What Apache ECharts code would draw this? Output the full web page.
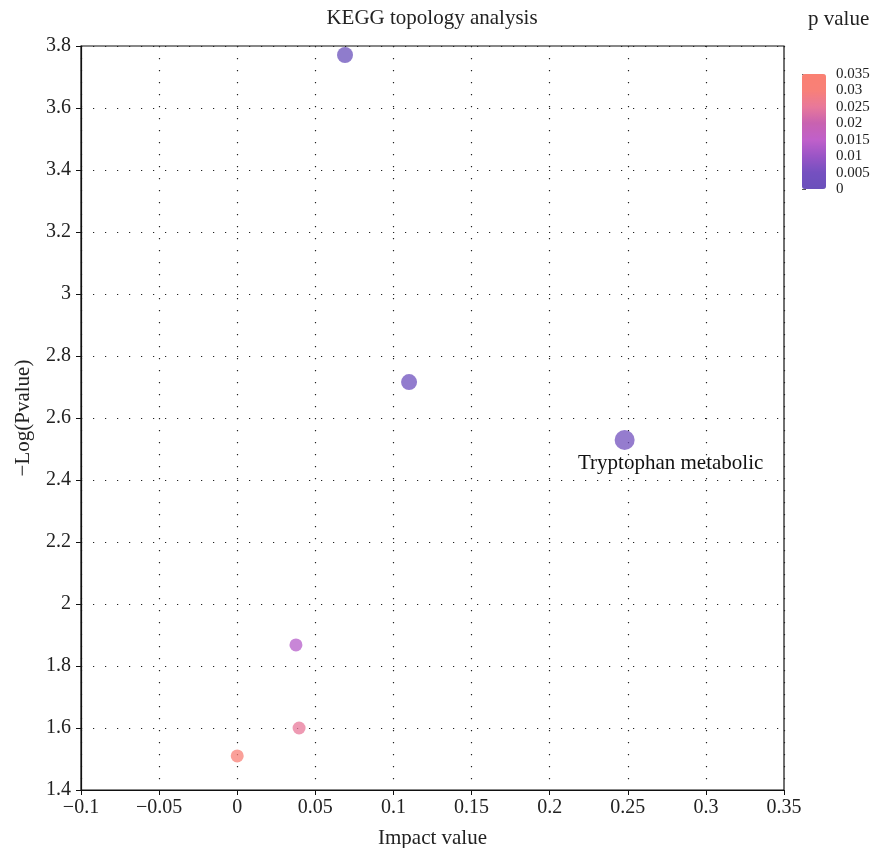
<!DOCTYPE html>
<html>
<head>
<meta charset="utf-8">
<script src="https://cdn.jsdelivr.net/npm/echarts@6/dist/echarts.min.js"></script>
<style>
html,body{margin:0;padding:0;background:#fff;}
#chart{width:873px;height:848px;}
</style>
</head>
<body>
<div id="chart"></div>
<script>
// Data
var impactValues = [0.069, 0.110, 0.248, 0.0376, 0.0396, 0.0];
var negLogP = [3.771, 2.716, 2.529, 1.868, 1.600, 1.510];
var pValues = [0.00017, 0.0019, 0.0030, 0.0136, 0.0251, 0.0309];
var dotSizes = [16, 16, 20, 13, 13, 13];
var pathwayLabels = ['', '', 'Tryptophan metabolic', '', '', ''];
var xTicks = { min: -0.1, max: 0.35, interval: 0.05 };
var yTicks = { min: 1.4, max: 3.8, interval: 0.2 };
var pTicks = { min: 0, max: 0.035, interval: 0.005 };

var FONT = '"Liberation Serif", "DejaVu Serif", serif';
var chart = echarts.init(document.getElementById('chart'));

var data = impactValues.map(function (x, i) {
  var item = { value: [x, negLogP[i], pValues[i]], symbolSize: dotSizes[i] };
  if (pathwayLabels[i]) {
    item.label = {
      show: true, position: 'bottom', distance: 3, offset: [46, 0],
      formatter: pathwayLabels[i], opacity: 1,
      fontFamily: FONT, fontSize: 21, color: '#111'
    };
  }
  return item;
});

function minusFmt(v) { return String(v).replace('-', '\u2212'); }

var option = {
  animation: false,
  backgroundColor: '#fff',
  graphic: [
    { type: 'text', x: 432, y: 8, style: { text: 'KEGG topology analysis', textAlign: 'center', font: '21px ' + FONT, fill: '#222' } },
    { type: 'text', x: 808, y: 9, style: { text: 'p value', textAlign: 'left', font: '21px ' + FONT, fill: '#222' } }
  ],
  grid: [
    { left: 81, right: 89, top: 46, bottom: 58, show: true, borderColor: '#111', borderWidth: 1.2, backgroundColor: 'transparent', containLabel: false, outerBoundsMode: 'none' },
    { left: 802, top: 74, width: 24, height: 115, show: false, outerBoundsMode: 'none' }
  ],
  xAxis: [
    {
      type: 'value', gridIndex: 0, min: xTicks.min, max: xTicks.max, interval: xTicks.interval,
      name: 'Impact value', nameLocation: 'middle', nameGap: 38,
      nameTextStyle: { fontFamily: FONT, fontSize: 21, color: '#222' },
      axisLine: { show: true, onZero: false, lineStyle: { color: '#111', width: 1.2 } },
      axisTick: { show: true, inside: false, length: 5, lineStyle: { color: '#111' } },
      axisLabel: { fontFamily: FONT, fontSize: 20, color: '#222', margin: 8, formatter: minusFmt },
      splitLine: { show: true, lineStyle: { color: '#222', width: 1.2, type: [1.2, 10.8] } }
    },
    { type: 'value', gridIndex: 1, show: false, min: 0, max: 1 }
  ],
  yAxis: [
    {
      type: 'value', gridIndex: 0, min: yTicks.min, max: yTicks.max, interval: yTicks.interval,
      name: '\u2212Log(Pvalue)', nameLocation: 'middle', nameGap: 47,
      nameTextStyle: { fontFamily: FONT, fontSize: 21, color: '#222' },
      axisLine: { show: true, onZero: false, lineStyle: { color: '#111', width: 1.2 } },
      axisTick: { show: true, inside: false, length: 5, lineStyle: { color: '#111' } },
      axisLabel: { fontFamily: FONT, fontSize: 20, color: '#222', margin: 10 },
      splitLine: { show: true, lineStyle: { color: '#222', width: 1.2, type: [1.2, 10.8] } }
    },
    {
      type: 'value', gridIndex: 1, position: 'right', min: pTicks.min, max: pTicks.max, interval: pTicks.interval,
      axisLine: { show: false },
      axisTick: { show: true, inside: false, length: 4, lineStyle: { color: '#555' } },
      axisLabel: { fontFamily: FONT, fontSize: 15, color: '#222', margin: 10 },
      splitLine: { show: false }
    }
  ],
  visualMap: {
    type: 'continuous', min: pTicks.min, max: pTicks.max, dimension: 2, seriesIndex: 0,
    left: 802, top: 74, itemWidth: 24, itemHeight: 115, padding: 0,
    calculable: false, hoverLink: false, text: null, showLabel: false,
    indicatorSize: 0, handleSize: 0,
    inRange: { color: ['#6a50bb', '#7550c0', '#9a55c6', '#c060ca', '#c862b0', '#e8789a', '#f88078', '#fa8072'] }
  },
  series: [
    {
      type: 'scatter', xAxisIndex: 0, yAxisIndex: 0,
      data: data,
      itemStyle: { opacity: 0.75 },
      clip: false
    }
  ]
};
chart.setOption(option);
</script>
</body>
</html>
